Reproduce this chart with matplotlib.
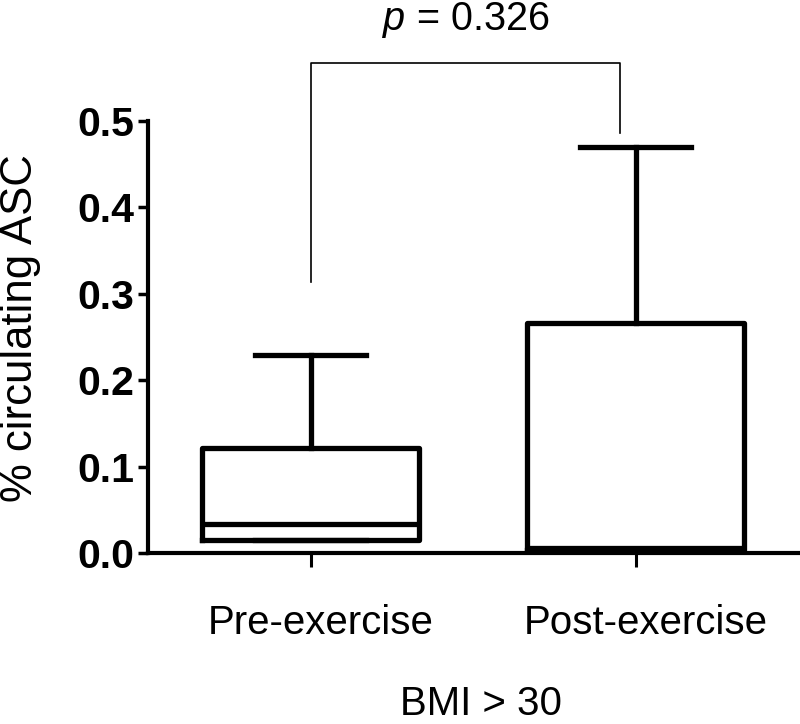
import matplotlib
matplotlib.use("Agg")
import matplotlib.pyplot as plt

# Box summary values
groups = ["Pre-exercise", "Post-exercise"]
whisker_low = [0.015, 0.004]
q1 = [0.015, 0.004]
median = [0.034, 0.006]
q3 = [0.122, 0.266]
whisker_high = [0.229, 0.470]

p_text = "$p$ = 0.326"
group_title = "BMI > 30"
y_label = "% circulating ASC"
y_ticks = [0.0, 0.1, 0.2, 0.3, 0.4, 0.5]

# Bracket levels (data units)
bracket_left_y = 0.314
bracket_right_y = 0.486
bracket_top_y = 0.567
bracket_right_x = 1.951

positions = [1, 2]
label_offset = 0.031  # labels sit a bit right of the ticks in the reference

plt.rcParams["font.family"] = ["Liberation Sans", "DejaVu Sans"]
plt.rcParams["mathtext.fontset"] = "custom"
plt.rcParams["mathtext.it"] = "Liberation Sans:italic"
plt.rcParams["mathtext.rm"] = "Liberation Sans"

fig = plt.figure(figsize=(8, 7.24), dpi=100)
ax = fig.add_axes([0.185, 0.2362, 0.815, 0.5967])

# Building stats dicts for bxp
stats = []
for i in range(len(groups)):
    stats.append({
        "whislo": whisker_low[i], "q1": q1[i], "med": median[i],
        "q3": q3[i], "whishi": whisker_high[i], "label": groups[i],
    })

lw = 3.8
ax.bxp(stats, positions=positions, widths=0.668, showfliers=False,
       boxprops=dict(linewidth=lw, color="black"),
       medianprops=dict(linewidth=lw, color="black"),
       whiskerprops=dict(linewidth=lw, color="black"),
       capprops=dict(linewidth=lw, color="black"),
       capwidths=0.34)

ax.set_xlim(0.5, 2.505)
ax.set_ylim(0, 0.5)
ax.set_yticks(y_ticks)
ax.set_yticklabels([f"{t:.1f}" for t in y_ticks], fontsize=29.5, fontweight="bold")

# major ticks carry the marks, minor ticks carry the (shifted) labels
ax.set_xticks(positions)
ax.set_xticklabels(["", ""])
ax.set_xticks([p + label_offset for p in positions], minor=True)
ax.set_xticklabels(groups, minor=True, fontsize=29)

for side in ["top", "right"]:
    ax.spines[side].set_visible(False)
for side in ["left", "bottom"]:
    ax.spines[side].set_linewidth(3)
ax.tick_params(axis="y", length=7, width=2.5, pad=3)
ax.tick_params(axis="x", which="major", length=10, width=2.2)
ax.tick_params(axis="x", which="minor", length=0, pad=37)

# Significance bracket
ax.plot([1, 1, bracket_right_x, bracket_right_x],
        [bracket_left_y, bracket_top_y, bracket_top_y, bracket_right_y],
        color="black", linewidth=1.2, clip_on=False)

fig.text(0.5825, 0.972, p_text, fontsize=28.5, ha="center", va="center")
fig.text(0.601, 0.028, group_title, fontsize=29, ha="center", va="center")
fig.text(0.026, 0.547, y_label, fontsize=31.5, ha="center", va="center", rotation=90)

fig.savefig("out.png", dpi=100)
